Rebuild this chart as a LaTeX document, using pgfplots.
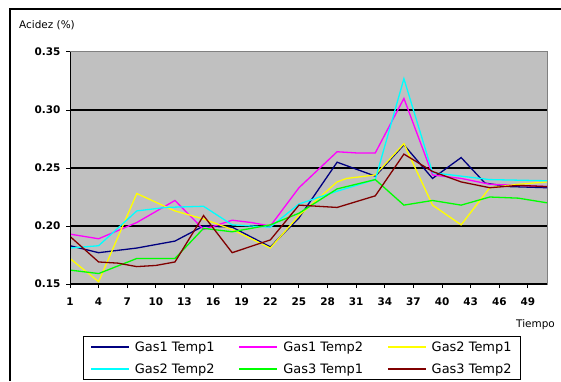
\documentclass[border=0pt]{standalone}
\usepackage{pgfplots}
\pgfplotsset{compat=1.18}
\usepackage{fontspec}
\setmainfont{DejaVu Sans}
\definecolor{bgray}{RGB}{192,192,192}
\definecolor{bord}{RGB}{128,128,128}
\definecolor{navy}{RGB}{0,0,128}
\definecolor{mag}{RGB}{255,0,255}
\definecolor{yel}{RGB}{255,255,0}
\definecolor{cya}{RGB}{0,255,255}
\definecolor{grn}{RGB}{0,255,0}
\definecolor{brn}{RGB}{128,0,0}
\begin{document}
\begin{tikzpicture}[x=1bp,y=1bp]
\useasboundingbox (0,0) rectangle (561,381);
\draw[black,line width=1.2bp] (10,0) -- (10,372) -- (561,372);
\node[anchor=west,font=\fontsize{10.5}{12}\selectfont,inner sep=0] at (19,356) {Acidez (\%)};
\node[anchor=west,font=\fontsize{10.5}{12}\selectfont,inner sep=0] at (516,56) {Tiempo};
\begin{axis}[at={(70bp,97bp)}, anchor=south west, scale only axis,
  width=477bp, height=232bp,
  xmin=1, xmax=51, ymin=0.15, ymax=0.35,
  xtick={1,4,...,49},
  ytick={0.15,0.2,0.25,0.3,0.35},
  extra y ticks={0.2,0.25,0.3}, extra y tick labels={},
  extra y tick style={ymajorgrids=true, major tick length=0pt},
  grid style={black,line width=1.3bp},
  axis background/.style={fill=bgray},
  axis line style={bord,line width=1bp},
  tick align=outside, tick pos=left, major tick length=4bp,
  tick style={black,line width=1bp},
  /pgf/number format/assume math mode=true,
  yticklabel style={xshift=-2bp, /pgf/number format/.cd, fixed, fixed zerofill, precision=2},
  xticklabel style={yshift=-6bp},
  ticklabel style={font=\bfseries\fontsize{10.5}{12}\selectfont},
  legend columns=3,
  legend style={at={(0.027,-0.225)}, anchor=north west, draw=black, line width=0.8bp,
    fill=white, font=\fontsize{13}{15}\selectfont, inner xsep=7bp, inner ysep=3bp,
    row sep=7bp,
    /tikz/every odd column/.append style={column sep=3bp},
    /tikz/every even column/.append style={column sep=22bp}},
  legend cell align=left,
  legend image code/.code={\draw[#1,line width=1.6bp] (0bp,0bp) -- (38bp,0bp);},
  every axis plot/.append style={line width=1.3bp},
]
\addplot[draw=navy] coordinates {(1,0.183) (4,0.177) (8,0.181) (12,0.187) (15,0.200) (18,0.199) (22,0.182) (25,0.207) (29,0.255) (33,0.243) (36,0.270) (39,0.241) (42,0.259) (44.5,0.237) (47,0.234) (51,0.233)};
\addplot[draw=mag] coordinates {(1,0.193) (4,0.189) (8,0.203) (12,0.222) (15,0.197) (18,0.205) (20,0.203) (22,0.200) (25,0.233) (29,0.264) (31,0.263) (33,0.263) (36,0.310) (39,0.244) (42,0.241) (45,0.236) (48,0.235) (51,0.234)};
\addplot[draw=yel] coordinates {(1,0.172) (4,0.152) (8,0.228) (12,0.213) (15,0.206) (18,0.197) (22,0.181) (25,0.209) (29,0.238) (30,0.241) (33,0.244) (36,0.271) (39,0.218) (42,0.201) (45,0.233) (48,0.236) (51,0.238)};
\addplot[draw=cya] coordinates {(1,0.181) (4,0.183) (8,0.213) (11,0.216) (15,0.217) (18,0.201) (22,0.199) (25,0.219) (29,0.230) (33,0.240) (36,0.327) (39,0.246) (42,0.243) (45,0.240) (51,0.239)};
\addplot[draw=grn] coordinates {(1,0.162) (4,0.159) (8,0.172) (12,0.172) (15,0.198) (18,0.195) (22,0.201) (25,0.211) (29,0.232) (33,0.240) (36,0.218) (39,0.222) (42,0.218) (45,0.225) (48,0.224) (51,0.220)};
\addplot[draw=brn] coordinates {(1,0.191) (4,0.169) (6,0.168) (8,0.165) (10,0.166) (12,0.169) (15,0.209) (18,0.177) (22,0.188) (25,0.218) (27,0.217) (29,0.216) (33,0.226) (36,0.262) (39,0.247) (42,0.238) (45,0.233) (48,0.235) (51,0.234)};
\legend{Gas1 Temp1, Gas1 Temp2, Gas2 Temp1, Gas2 Temp2, Gas3 Temp1, Gas3 Temp2}
\draw[black,line width=1.3bp] (rel axis cs:0,1) -- (rel axis cs:0,0) -- (rel axis cs:1,0);
\end{axis}
\end{tikzpicture}
\end{document}
